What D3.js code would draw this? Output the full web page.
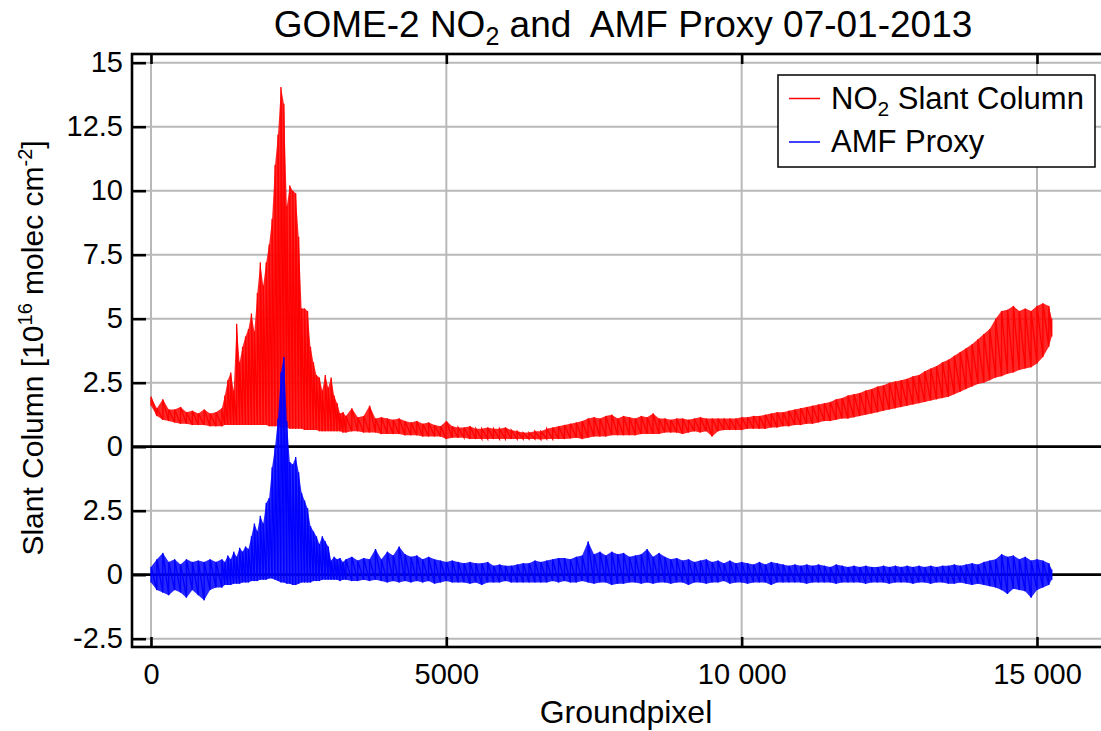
<!DOCTYPE html>
<html>
<head>
<meta charset="utf-8">
<script src="https://cdn.jsdelivr.net/npm/d3@7"></script>
<style>
  html, body { margin: 0; padding: 0; background: #fff; }
  svg { display: block; font-family: "Liberation Sans", Arial, Helvetica, sans-serif; }
</style>
</head>
<body>
<svg id="chart" width="1101" height="731"></svg>
<script>
// groundpixel positions of the sampled envelope (denser around the peak)
const groundPixel = [
  0, 100, 200, 300, 400, 500, 600, 700, 800, 900, 1000, 1100, 1200,
  1250, 1300, 1350, 1400, 1450, 1500, 1550, 1600, 1650, 1700,
  1750, 1800, 1850, 1900, 1950, 2000, 2050, 2100, 2150, 2200,
  2250, 2300, 2350, 2400, 2450, 2500, 2550, 2600, 2650, 2700,
  2750, 2800, 2850, 2900, 2950, 3000, 3050, 3100, 3150, 3200,
  3250, 3300,
  3400, 3500, 3600, 3700, 3800, 3900,
  4000, 4100, 4200, 4300, 4400, 4500, 4600, 4700, 4800, 4900,
  5000, 5100, 5200, 5300, 5400, 5500, 5600, 5700, 5800, 5900,
  6000, 6100, 6200, 6300, 6400, 6500, 6600, 6700, 6800, 6900,
  7000, 7100, 7200, 7300, 7400, 7500, 7600, 7700, 7800, 7900,
  8000, 8100, 8200, 8300, 8400, 8500, 8600, 8700, 8800, 8900,
  9000, 9100, 9200, 9300, 9400, 9500, 9600, 9700, 9800, 9900,
  10000, 10100, 10200, 10300, 10400, 10500, 10600, 10700, 10800, 10900,
  11000, 11100, 11200, 11300, 11400, 11500, 11600, 11700, 11800, 11900,
  12000, 12100, 12200, 12300, 12400, 12500, 12600, 12700, 12800, 12900,
  13000, 13100, 13200, 13300, 13400, 13500, 13600, 13700, 13800, 13900,
  14000, 14100, 14200, 14300, 14400, 14500, 14600, 14700, 14800, 14900,
  15000, 15100, 15200, 15250
];

// NO2 slant column, upper / lower edge of the scatter [1e16 molec cm-2]
const no2High = [
  1.95, 1.5, 1.85, 1.45, 1.45, 1.55, 1.35, 1.4, 1.3, 1.45, 1.3, 1.35, 1.5,
  2.0, 2.6, 2.9, 2.2, 4.8, 3.3, 3.9, 4.3, 4.6, 5.2,
  4.5, 6.0, 7.2, 6.3, 7.2, 7.9, 8.9, 11.0, 12.2, 14.05,
  13.4, 9.4, 10.2, 10.0, 9.9, 8.2, 5.4, 5.4, 5.3, 3.9,
  3.3, 2.8, 2.7, 2.2, 2.8, 2.3, 2.7, 2.0, 1.7, 1.3,
  1.35, 1.2,
  1.5, 1.15, 1.2, 1.6, 1.1, 1.15,
  1.1, 1.05, 1.1, 1.0, 0.95, 1.0, 0.9, 0.95, 0.85, 0.8,
  1.0, 0.8, 0.75, 0.75, 0.8, 0.7, 0.7, 0.75, 0.7, 0.7,
  0.75, 0.65, 0.6, 0.55, 0.55, 0.6, 0.6, 0.7, 0.75, 0.8,
  0.85, 0.9, 0.95, 1.0, 1.1, 1.15, 1.1, 1.2, 1.25, 1.1,
  1.2, 1.15, 1.1, 1.2, 1.15, 1.3, 1.1, 1.1, 1.05, 1.1,
  1.1, 1.05, 1.1, 1.15, 1.1, 1.1, 1.1, 1.1, 1.1, 1.1,
  1.15, 1.15, 1.2, 1.2, 1.25, 1.3, 1.35, 1.35, 1.4, 1.45,
  1.5, 1.55, 1.6, 1.65, 1.7, 1.75, 1.85, 1.9, 2.0, 2.05,
  2.1, 2.2, 2.25, 2.35, 2.4, 2.5, 2.55, 2.6, 2.65, 2.75,
  2.8, 2.95, 3.05, 3.15, 3.3, 3.4, 3.55, 3.7, 3.85, 4.0,
  4.2, 4.4, 4.6, 5.0, 5.3, 5.35, 5.5, 5.3, 5.4, 5.3,
  5.5, 5.6, 5.5, 5.0
];
const no2Low = [
  1.6, 1.2, 1.05, 1.0, 0.95, 0.9, 0.9, 0.85, 0.85, 0.85, 0.8, 0.8, 0.8,
  0.85, 0.85, 0.85, 0.85, 0.85, 0.85, 0.85, 0.85, 0.85, 0.85,
  0.85, 0.85, 0.85, 0.85, 0.85, 0.8, 0.8, 0.8, 0.8, 0.75,
  0.75, 0.75, 0.7, 0.7, 0.7, 0.7, 0.7, 0.65, 0.65, 0.65,
  0.65, 0.65, 0.6, 0.6, 0.6, 0.6, 0.6, 0.6, 0.6, 0.6,
  0.55, 0.55,
  0.6, 0.6, 0.55, 0.55, 0.55, 0.5,
  0.5, 0.5, 0.5, 0.45, 0.45, 0.45, 0.4, 0.4, 0.4, 0.4,
  0.3, 0.35, 0.35, 0.35, 0.3, 0.3, 0.3, 0.3, 0.3, 0.3,
  0.3, 0.3, 0.3, 0.3, 0.3, 0.3, 0.28, 0.3, 0.3, 0.3,
  0.3, 0.32, 0.35, 0.3, 0.35, 0.4, 0.4, 0.4, 0.45, 0.45,
  0.45, 0.45, 0.45, 0.5, 0.5, 0.5, 0.5, 0.55, 0.55, 0.55,
  0.5, 0.55, 0.6, 0.55, 0.6, 0.4, 0.6, 0.65, 0.65, 0.65,
  0.65, 0.7, 0.7, 0.7, 0.7, 0.75, 0.75, 0.8, 0.8, 0.85,
  0.85, 0.9, 0.9, 0.95, 1.0, 1.0, 1.05, 1.1, 1.1, 1.15,
  1.2, 1.25, 1.3, 1.35, 1.4, 1.45, 1.5, 1.55, 1.6, 1.65,
  1.7, 1.75, 1.8, 1.85, 1.9, 1.95, 2.05, 2.15, 2.25, 2.35,
  2.45, 2.5, 2.6, 2.7, 2.75, 2.85, 2.9, 3.0, 3.05, 3.1,
  3.25, 3.5, 3.9, 4.3
];

// AMF proxy, upper / lower edge
const amfHigh = [
  0.3, 0.6, 0.85, 0.5, 0.6, 0.4, 0.6, 0.5, 0.55, 0.5, 0.6, 0.5, 0.6,
  0.5, 0.75, 0.6, 0.9, 0.7, 1.05, 0.9, 1.1, 1.0, 1.5,
  2.0, 1.7, 2.3, 2.0, 2.8, 3.0, 4.2, 5.0, 6.1, 7.9,
  8.5, 6.0, 4.4, 4.3, 4.6, 4.0, 3.2, 2.9, 2.6, 1.9,
  1.7, 1.5, 1.2, 1.5, 1.3, 1.1, 0.55, 0.7, 0.6, 0.65,
  0.5, 0.6,
  0.7, 0.55, 0.65, 0.6, 1.0, 0.6,
  0.9, 0.75, 1.1, 0.8, 0.7, 0.75, 0.6, 0.7, 0.6, 0.55,
  0.5, 0.55, 0.5, 0.45, 0.5, 0.45, 0.45, 0.5, 0.35, 0.4,
  0.35, 0.35, 0.4, 0.45, 0.45, 0.55, 0.5, 0.55, 0.6, 0.65,
  0.65, 0.6, 0.7, 0.75, 1.3, 0.8, 0.9, 0.75, 0.9, 0.8,
  0.85, 0.7, 0.75, 0.8, 1.0, 0.7, 0.85, 0.7, 0.6, 0.65,
  0.55, 0.6, 0.5, 0.55, 0.6, 0.5, 0.55, 0.45, 0.55, 0.45,
  0.5, 0.45, 0.4, 0.5, 0.4, 0.5, 0.45, 0.4, 0.35, 0.4,
  0.35, 0.4, 0.35, 0.4, 0.35, 0.3, 0.4, 0.35, 0.3, 0.35,
  0.3, 0.35, 0.3, 0.3, 0.35, 0.3, 0.35, 0.3, 0.35, 0.3,
  0.35, 0.3, 0.35, 0.3, 0.35, 0.35, 0.4, 0.35, 0.4, 0.45,
  0.4, 0.5, 0.55, 0.6, 0.8, 0.7, 0.75, 0.6, 0.7, 0.55,
  0.6, 0.55, 0.45, 0.2
];
const amfLow = [
  -0.3, -0.6, -0.7, -0.8, -0.6, -0.7, -0.9, -0.6, -0.8, -1.0, -0.6, -0.5, -0.5,
  -0.4, -0.4, -0.4, -0.35, -0.35, -0.35, -0.3, -0.3, -0.3, -0.25,
  -0.25, -0.25, -0.2, -0.2, -0.2, -0.15, -0.15, -0.2, -0.25, -0.3,
  -0.3, -0.35, -0.35, -0.4, -0.4, -0.35, -0.3, -0.3, -0.3, -0.3,
  -0.25, -0.25, -0.25, -0.2, -0.2, -0.2, -0.2, -0.2, -0.2, -0.25,
  -0.2, -0.2,
  -0.25, -0.25, -0.2, -0.25, -0.2, -0.25,
  -0.3, -0.25, -0.3, -0.25, -0.3, -0.25, -0.3, -0.25, -0.35, -0.3,
  -0.25, -0.3, -0.3, -0.3, -0.35, -0.3, -0.4, -0.3, -0.3, -0.3,
  -0.25, -0.3, -0.3, -0.3, -0.3, -0.3, -0.3, -0.3, -0.25, -0.3,
  -0.25, -0.3, -0.3, -0.25, -0.3, -0.35, -0.3, -0.3, -0.4, -0.35,
  -0.35, -0.3, -0.3, -0.35, -0.3, -0.35, -0.3, -0.3, -0.35, -0.3,
  -0.3, -0.4, -0.3, -0.3, -0.35, -0.3, -0.3, -0.25, -0.35, -0.3,
  -0.3, -0.35, -0.3, -0.3, -0.3, -0.4, -0.3, -0.3, -0.3, -0.3,
  -0.3, -0.35, -0.3, -0.3, -0.3, -0.3, -0.35, -0.3, -0.3, -0.3,
  -0.3, -0.35, -0.3, -0.3, -0.3, -0.35, -0.3, -0.3, -0.3, -0.35,
  -0.3, -0.3, -0.35, -0.3, -0.3, -0.35, -0.35, -0.3, -0.35, -0.4,
  -0.35, -0.4, -0.45, -0.5, -0.6, -0.75, -0.55, -0.6, -0.65, -0.9,
  -0.6, -0.5, -0.4, -0.2
];

const xTicks = [0, 5000, 10000, 15000];
const xTickLabels = ['0', '5000', '10 000', '15 000'];
const topTicks = [0, 2.5, 5, 7.5, 10, 12.5, 15];
const bottomTicks = [-2.5, 0, 2.5];

const seriesNames = ['NO2 Slant Column', 'AMF Proxy'];
const seriesColors = ['#ff0000', '#0000ff'];

// ---- layout
const frame = { left: 132, right: 1103, top: 54, bottom: 647 };
const svg = d3.select('#chart');

const x = d3.scaleLinear().domain([0, 15000]).range([151, 1037]);
// upper panel: NO2, lower panel: AMF proxy shifted down by 5 units
const yTop = d3.scaleLinear().domain([0, 15]).range([446.7, 62.7]);
const yBot = d3.scaleLinear().domain([5, 20]).range([446.7, 62.7]);

svg.append('rect').attr('width', 1101).attr('height', 731).attr('fill', '#fff');

svg.append('defs').append('clipPath').attr('id', 'plotClip')
  .append('rect')
  .attr('x', frame.left).attr('y', frame.top)
  .attr('width', frame.right - frame.left).attr('height', frame.bottom - frame.top);

// grid
const grid = svg.append('g');
grid.selectAll('.vgrid').data(xTicks).enter().append('line')
  .attr('x1', d => x(d)).attr('x2', d => x(d))
  .attr('y1', frame.top).attr('y2', frame.bottom)
  .attr('stroke', '#b9b9b9').attr('stroke-width', 2);

const hLines = topTicks.map(v => ({ y: yTop(v), zero: v === 0 }))
  .concat(bottomTicks.map(v => ({ y: yBot(v), zero: v === 0 })));

grid.selectAll('.hgrid').data(hLines.filter(d => !d.zero)).enter().append('line')
  .attr('x1', frame.left).attr('x2', frame.right)
  .attr('y1', d => d.y).attr('y2', d => d.y)
  .attr('stroke', '#b9b9b9').attr('stroke-width', 2);

grid.selectAll('.zero').data(hLines.filter(d => d.zero)).enter().append('line')
  .attr('x1', frame.left).attr('x2', frame.right)
  .attr('y1', d => d.y).attr('y2', d => d.y)
  .attr('stroke', '#000').attr('stroke-width', 2.8);

// data
const no2Data = groundPixel.map((g, i) => ({ g, lo: no2Low[i], hi: no2High[i] }));
const amfData = groundPixel.map((g, i) => ({ g, lo: amfLow[i], hi: amfHigh[i] }));

function drawBand(data, yScale, color) {
  const g = svg.append('g').attr('clip-path', 'url(#plotClip)');
  const area = d3.area()
    .x(d => x(d.g))
    .y0(d => yScale(d.lo))
    .y1(d => yScale(d.hi));
  g.append('path').datum(data)
    .attr('d', area)
    .attr('fill', color)
    .attr('fill-opacity', 0.85);

  // the scan-by-scan oscillation: up and down through each sample
  const pts = [];
  data.forEach(d => { pts.push([d.g, d.lo]); pts.push([d.g, d.hi]); });
  const line = d3.line().x(p => x(p[0])).y(p => yScale(p[1]));
  g.append('path').datum(pts)
    .attr('d', line)
    .attr('fill', 'none')
    .attr('stroke', color)
    .attr('stroke-width', 1.3);
}

drawBand(no2Data, yTop, seriesColors[0]);
drawBand(amfData, yBot, seriesColors[1]);

// frame
svg.append('rect')
  .attr('x', frame.left).attr('y', frame.top)
  .attr('width', frame.right - frame.left).attr('height', frame.bottom - frame.top)
  .attr('fill', 'none').attr('stroke', '#000').attr('stroke-width', 2.6);

// axes
const tickFmt = v => String(v);

const axTop = svg.append('g').attr('transform', `translate(${frame.left},0)`)
  .call(d3.axisLeft(yTop).tickValues(topTicks).tickFormat(tickFmt)
    .tickSizeInner(-14).tickSizeOuter(0).tickPadding(9));
const axBot = svg.append('g').attr('transform', `translate(${frame.left},0)`)
  .call(d3.axisLeft(yBot).tickValues(bottomTicks).tickFormat(tickFmt)
    .tickSizeInner(-14).tickSizeOuter(0).tickPadding(9));

const axX = svg.append('g').attr('transform', `translate(0,${frame.bottom})`)
  .call(d3.axisBottom(x).tickValues(xTicks).tickFormat((d, i) => xTickLabels[i])
    .tickSizeInner(-10).tickSizeOuter(0).tickPadding(16));
const axXTop = svg.append('g').attr('transform', `translate(0,${frame.top})`)
  .call(d3.axisTop(x).tickValues(xTicks).tickFormat('')
    .tickSizeInner(-10).tickSizeOuter(0));

[axTop, axBot, axX, axXTop].forEach(a => {
  a.select('.domain').remove();
  a.selectAll('.tick line').attr('stroke', '#000').attr('stroke-width', 2.6);
  a.selectAll('.tick text')
    .attr('fill', '#000')
    .style('font-family', '"Liberation Sans", Arial, sans-serif')
    .style('font-size', '29px');
});

// titles
const title = svg.append('text')
  .attr('x', 623).attr('y', 37)
  .attr('text-anchor', 'middle')
  .style('font-size', '37px')
  .attr('fill', '#000')
  .attr('xml:space', 'preserve');
title.append('tspan').text('GOME-2 NO');
title.append('tspan').attr('dy', 8).style('font-size', '25px').text('2');
title.append('tspan').attr('dy', -8).text(' and  AMF Proxy 07-01-2013');

svg.append('text')
  .attr('x', 626).attr('y', 723)
  .attr('text-anchor', 'middle')
  .style('font-size', '32px')
  .text('Groundpixel');

const yLabel = svg.append('text')
  .attr('transform', 'translate(43,348) rotate(-90)')
  .attr('text-anchor', 'middle')
  .style('font-size', '30px');
yLabel.append('tspan').text('Slant Column [10');
yLabel.append('tspan').attr('dy', -11).style('font-size', '20px').text('16');
yLabel.append('tspan').attr('dy', 11).text(' molec cm');
yLabel.append('tspan').attr('dy', -11).style('font-size', '20px').text('-2');
yLabel.append('tspan').attr('dy', 11).text(']');

// legend
const legend = svg.append('g');
legend.append('rect')
  .attr('x', 778).attr('y', 75).attr('width', 317).attr('height', 92)
  .attr('fill', '#fff').attr('stroke', '#000').attr('stroke-width', 1.5);

const legendRows = [98.5, 142];
seriesNames.forEach((name, i) => {
  legend.append('line')
    .attr('x1', 789).attr('x2', 820)
    .attr('y1', legendRows[i]).attr('y2', legendRows[i])
    .attr('stroke', seriesColors[i]).attr('stroke-width', 1.5);
  const t = legend.append('text')
    .attr('x', 831).attr('y', legendRows[i] + 10)
    .style('font-size', '31px');
  if (name.startsWith('NO2')) {
    t.append('tspan').text('NO');
    t.append('tspan').attr('dy', 7).style('font-size', '21px').text('2');
    t.append('tspan').attr('dy', -7).text(' Slant Column');
  } else {
    t.text(name);
  }
});
</script>
</body>
</html>
